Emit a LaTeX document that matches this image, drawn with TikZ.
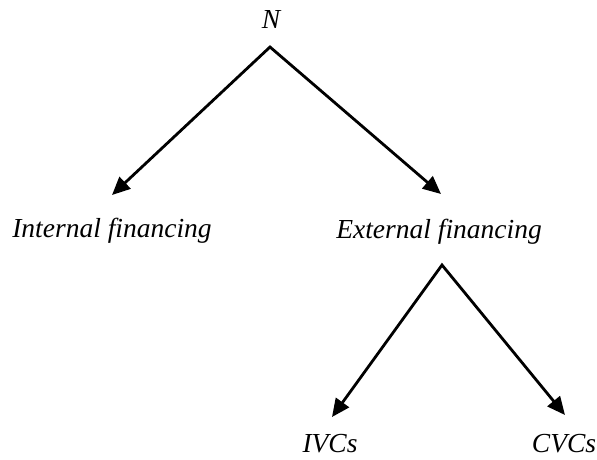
\documentclass[tikz,border=0pt]{standalone}
\usepackage{fontspec}
\setmainfont{Liberation Serif}
\usetikzlibrary{arrows.meta}
\begin{document}
\begin{tikzpicture}[x=1pt,y=-1pt,
  lbl/.style={font=\fontsize{27.5}{32}\selectfont\itshape, anchor=base, inner sep=0pt},
  tip/.tip={Triangle[length=18pt,width=16pt]},
  arr/.style={line width=2.8pt, line join=miter, tip-tip}]
\useasboundingbox (0,0) rectangle (597,459);
\node[lbl] (N) at (271,28) {N};
\node[lbl] (int) at (112,237) {Internal financing};
\node[lbl] (ext) at (439,238) {External financing};
\node[lbl] (ivc) at (330,452) {IVCs};
\node[lbl] (cvc) at (564,452) {CVCs};
\coordinate (top1) at (270,47);
\coordinate (tipI) at (112,195);
\coordinate (tipE) at (441,194);
\coordinate (top2) at (442,265);
\coordinate (tipV) at (332,417);
\coordinate (tipC) at (565,415);
\draw[arr] (tipI) -- (top1) -- (tipE);
\draw[arr] (tipV) -- (top2) -- (tipC);
\end{tikzpicture}
\end{document}
